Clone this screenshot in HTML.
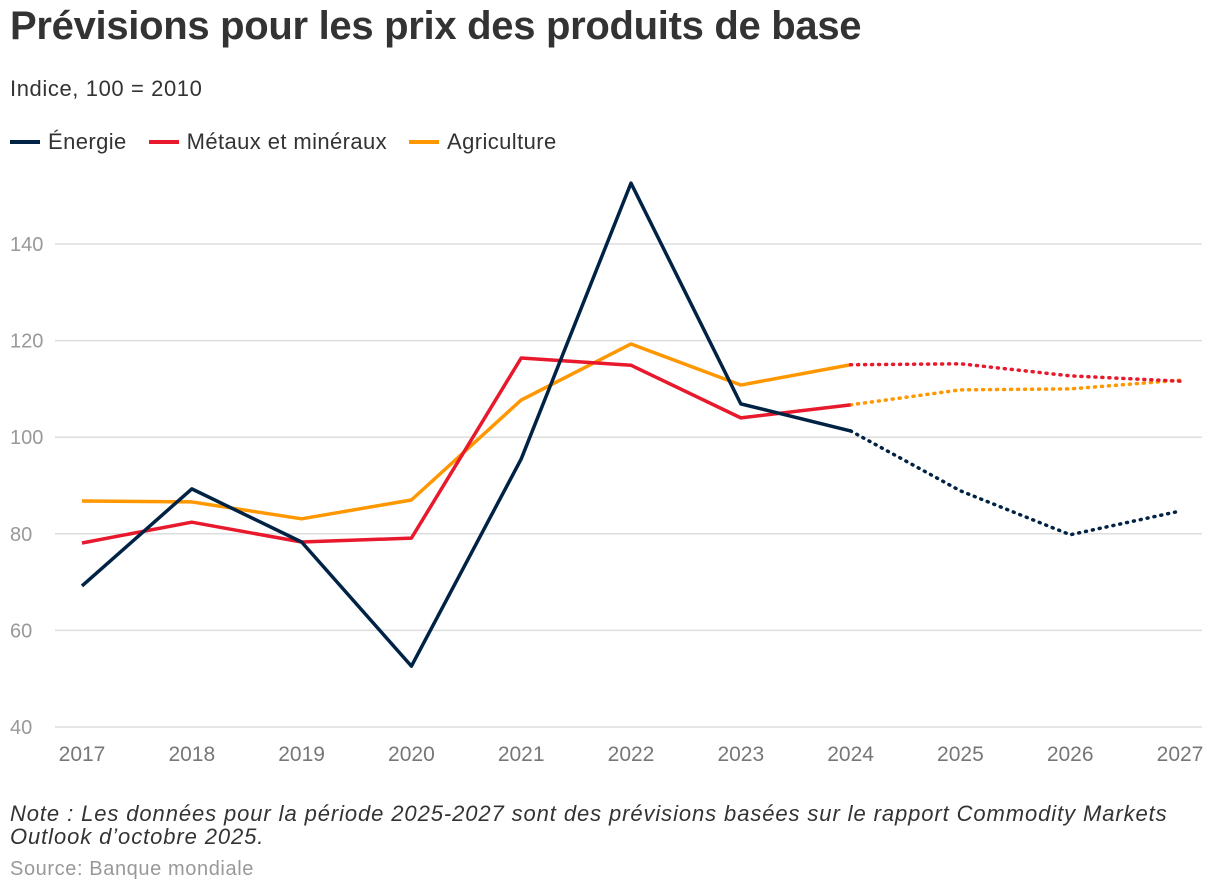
<!DOCTYPE html>
<html><head><meta charset="utf-8"><style>
body{margin:0;background:#fff;font-family:"Liberation Sans",Arial,sans-serif;width:1220px;height:894px;overflow:hidden;position:relative}
.t{position:absolute;left:10px;top:4px;font-size:40px;font-weight:bold;color:#333;letter-spacing:-0.3px}
.s{position:absolute;left:10px;top:76px;font-size:22px;color:#333;letter-spacing:0.6px}
.lg{position:absolute;left:10px;top:129px;font-size:22px;color:#333;display:flex;gap:22px;letter-spacing:0.4px}
.lg span{display:flex;align-items:center}
.lg i{display:inline-block;width:30px;height:4px;margin-right:8px}
.note{position:absolute;left:10px;top:802px;font-size:22px;font-style:italic;color:#333;line-height:23px;letter-spacing:0.9px}
.src{position:absolute;left:10px;top:858px;font-size:20px;color:#999;letter-spacing:0.6px}
svg{position:absolute;left:0;top:0}
</style></head><body>
<div class="t">Prévisions pour les prix des produits de base</div>
<div class="s">Indice, 100 = 2010</div>
<div class="lg">
<span><i style="background:#002345"></i>Énergie</span>
<span><i style="background:#e8192c"></i>Métaux et minéraux</span>
<span><i style="background:#ff9800"></i>Agriculture</span>
</div>
<svg id="c" width="1220" height="894"></svg>
<div class="note">Note : Les données pour la période 2025-2027 sont des prévisions basées sur le rapport Commodity Markets<br>Outlook d’octobre 2025.</div>
<div class="src">Source: Banque mondiale</div>
<script>
const years=[2017,2018,2019,2020,2021,2022,2023,2024];
const forecastYears=[2024,2025,2026,2027];
const energie=[69.2,89.3,78.3,52.6,95.5,152.6,106.9,101.3];
const energieForecast=[101.3,88.9,79.8,84.7];
const metaux=[78.1,82.4,78.3,79.1,116.4,114.9,104,106.7];
const metauxForecast=[115,115.2,112.7,111.6];
const agriculture=[86.8,86.6,83.1,87,107.7,119.3,110.8,115];
const agricultureForecast=[106.7,109.8,110,111.8];
const xTicks=[2017,2018,2019,2020,2021,2022,2023,2024,2025,2026,2027];
const yTicks=[40,60,80,100,120,140];
const svg=document.getElementById('c');const NS='http://www.w3.org/2000/svg';
const x=v=>82+(v-2017)*(1180-82)/10;
const y=v=>727-(v-40)*4.83;
function mk(t,a){const e=document.createElementNS(NS,t);for(const k in a)e.setAttribute(k,a[k]);svg.appendChild(e);return e;}
yTicks.forEach(t=>{
 const l=mk('line',{x1:55,x2:1202,y1:y(t),y2:y(t),stroke:'#ddd','stroke-width':1.5});
 
 
 const tx=mk('text',{x:10,y:y(t)+7,'font-size':20,fill:'#999'});tx.textContent=t;
 
 
});
xTicks.forEach(yr=>{
 const tx=mk('text',{x:x(yr),y:761,'font-size':21,fill:'#777','text-anchor':'middle'});tx.textContent=yr;
 
 
});
function series(vals,fvals,col,name){
 const a=mk('polyline',{points:vals.map((v,i)=>x(years[i])+','+y(v)).join(' '),fill:'none',stroke:col,'stroke-width':3.5,'stroke-linejoin':'round'});
 
 
 const b=mk('polyline',{points:fvals.map((v,i)=>x(forecastYears[i])+','+y(v)).join(' '),fill:'none',stroke:col,'stroke-width':3.5,'stroke-dasharray':'1 6','stroke-linecap':'round'});
 
 
}
series(agriculture,agricultureForecast,'#ff9800','agriculture');
series(metaux,metauxForecast,'#e8192c','metaux');
series(energie,energieForecast,'#002345','energie');
</script>
</body></html>
